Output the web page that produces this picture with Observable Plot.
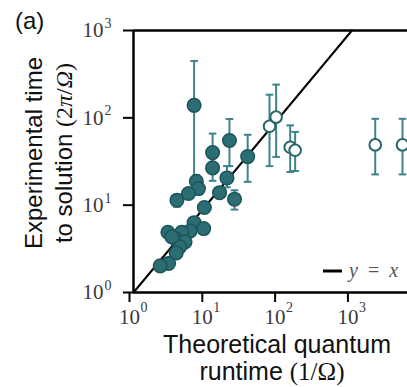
<!DOCTYPE html>
<html>
<head>
<meta charset="utf-8">
<script src="https://cdn.jsdelivr.net/npm/d3@7"></script>
<script src="https://cdn.jsdelivr.net/npm/@observablehq/plot@0.6"></script>
<style>
  html, body { margin: 0; padding: 0; background: #fff; }
  #chart svg { display: block; }
</style>
</head>
<body>
<div id="chart"></div>
<script>
// Filled markers (measured runs)
const filledX  = [6.8, 12.2, 12.2, 20.8, 37, 19.2, 24.4, 15.2, 9.4, 7.3, 7.8, 5.7, 3.95, 6.8, 9.2, 6.0, 2.97, 4.6, 3.74, 5.1, 4.3, 3.86, 3.03, 2.33, 3.37];
const filledY  = [139, 40, 26.7, 55, 36, 20.5, 11.7, 13.9, 9.4, 18.8, 15.5, 13.6, 11.4, 6.3, 5.4, 5.07, 4.9, 4.9, 4.15, 3.8, 3.33, 2.84, 2.15, 2.02, 4.33];
const filledLo = [18, 30, 19, 28, 18.5, 16, 8.9, 12.5, 8.5, 16, 13.5, 12, 9.6, 5.7, 4.9, 4.6, 4.5, 4.5, 3.8, 3.5, 3.0, 2.6, 2.0, 1.9, 4.0];
const filledHi = [447, 66, 36, 97, 64, 28, 14.8, 15.5, 10.5, 22, 17.5, 15, 13.2, 7.0, 6.0, 5.6, 5.3, 5.3, 4.5, 4.2, 3.7, 3.1, 2.35, 2.2, 4.7];

// Open markers
const openX  = [73.8, 91, 142, 166, 2090, 4950];
const openY  = [80, 102, 46, 42.5, 49, 49];
const openLo = [28, 35.7, 24, 24.6, 22.5, 22.5];
const openHi = [184, 240, 82, 69, 97.5, 97.5];

// Reference line y = x
const diagonal = [1, 1000];

// Axes
const xTicks = [1, 10, 100, 1000];
const yTicks = [1, 10, 100, 1000];
const tickExponents = ["0", "1", "2", "3"];
const xDomain = [1, 5800];
const yDomain = [1, 1000];

const filled = filledX.map((x, i) => ({x, y: filledY[i], lo: filledLo[i], hi: filledHi[i]}));
const open = openX.map((x, i) => ({x, y: openY[i], lo: openLo[i], hi: openHi[i]}));
const all = filled.concat(open);

const barColor = "#3d8389";
const dotFill = "#2b6d73";
const dotStroke = "#1c555b";
const serif = "'Liberation Serif', 'DejaVu Serif', serif";
const sans = "'Liberation Sans', Arial, sans-serif";

const capSymbol = {
  draw(context) { context.moveTo(-3.8, 0); context.lineTo(3.8, 0); }
};

const plot = Plot.plot({
  width: 407,
  height: 387,
  marginLeft: 133,
  marginRight: 0,
  marginTop: 30,
  marginBottom: 95,
  style: {background: "#fff", overflow: "visible"},
  x: {type: "log", domain: xDomain},
  y: {type: "log", domain: yDomain},
  marks: [
    Plot.line(diagonal, {x: d => d, y: d => d, stroke: "#000", strokeWidth: 2}),
    Plot.ruleX(all, {x: "x", y1: "lo", y2: "hi", stroke: barColor, strokeWidth: 2}),
    Plot.dot(all, {x: "x", y: "lo", symbol: capSymbol, stroke: barColor, strokeWidth: 2, fill: "none"}),
    Plot.dot(all, {x: "x", y: "hi", symbol: capSymbol, stroke: barColor, strokeWidth: 2, fill: "none"}),
    Plot.dot(filled, {x: "x", y: "y", r: 6.8, fill: dotFill, stroke: dotStroke, strokeWidth: 1.5}),
    Plot.dot(open, {x: "x", y: "y", r: 5.8, fill: "#fff", stroke: "#2a666c", strokeWidth: 2}),
    Plot.ruleX([xDomain[0]], {stroke: "#000", strokeWidth: 2.5}),
    Plot.ruleY([yDomain[0]], {stroke: "#000", strokeWidth: 2.5}),
    Plot.ruleY([yDomain[1]], {stroke: "#000", strokeWidth: 2.5}),
    Plot.axisY({ticks: yTicks, tickSize: 10, tickPadding: 20, tickFormat: () => "10", label: null,
      fontSize: 21, fontFamily: serif, fill: "#3a3a3a", stroke: "#000", strokeWidth: 2}),
    Plot.text(yTicks, {y: d => d, frameAnchor: "left", dx: -29, dy: -7, text: (d, i) => tickExponents[i],
      textAnchor: "start", fontSize: 14, fontFamily: serif, fill: "#3a3a3a"}),
    Plot.axisX({ticks: xTicks, tickSize: 10, tickPadding: 7, tickFormat: () => "10", label: null,
      fontSize: 21, fontFamily: serif, fill: "#3a3a3a", stroke: "#000", strokeWidth: 2, dx: -4}),
    Plot.text(xTicks, {x: d => d, frameAnchor: "bottom", dx: 7, dy: 19, text: (d, i) => tickExponents[i],
      textAnchor: "start", fontSize: 14, fontFamily: serif, fill: "#3a3a3a"})
  ]
});

document.getElementById("chart").appendChild(plot);

const svg = d3.select(plot);

// panel tag
svg.append("text").attr("x", 15).attr("y", 29).attr("text-anchor", "start")
  .attr("font-family", sans).attr("font-size", 24).attr("fill", "#111").text("(a)");

// y label
svg.append("text").attr("transform", "translate(42,153) rotate(-90)")
  .attr("text-anchor", "middle").attr("font-family", sans).attr("font-size", 24).attr("fill", "#111")
  .text("Experimental time");
const yl2 = svg.append("text").attr("transform", "translate(72,153) rotate(-90)")
  .attr("text-anchor", "middle").attr("font-family", sans).attr("font-size", 24).attr("fill", "#111");
yl2.append("tspan").text("to solution ");
yl2.append("tspan").attr("font-family", serif).text("(2");
yl2.append("tspan").attr("font-family", serif).attr("font-style", "italic").text("π");
yl2.append("tspan").attr("font-family", serif).text("/");
yl2.append("tspan").attr("font-family", serif).attr("font-style", "italic").text("Ω");
yl2.append("tspan").attr("font-family", serif).text(")");

// x label
svg.append("text").attr("x", 277).attr("y", 353).attr("text-anchor", "middle")
  .attr("font-family", sans).attr("font-size", 25).attr("fill", "#111").text("Theoretical quantum");
const xl2 = svg.append("text").attr("x", 272).attr("y", 380).attr("text-anchor", "middle")
  .attr("font-family", sans).attr("font-size", 25).attr("fill", "#111");
xl2.append("tspan").text("runtime ");
xl2.append("tspan").attr("font-family", serif).text("(1/");
xl2.append("tspan").attr("font-family", serif).text("Ω");
xl2.append("tspan").attr("font-family", serif).text(")");

// legend
svg.append("line").attr("x1", 323).attr("x2", 342).attr("y1", 271).attr("y2", 271)
  .attr("stroke", "#000").attr("stroke-width", 3);
const lg = svg.append("text").attr("x", 349).attr("y", 277).attr("text-anchor", "start")
  .attr("font-family", serif).attr("font-size", 20).attr("fill", "#555")
  .style("white-space", "pre");
lg.append("tspan").attr("font-style", "italic").text("y");
lg.append("tspan").text("  =  ");
lg.append("tspan").attr("font-style", "italic").text("x");
</script>
</body>
</html>
